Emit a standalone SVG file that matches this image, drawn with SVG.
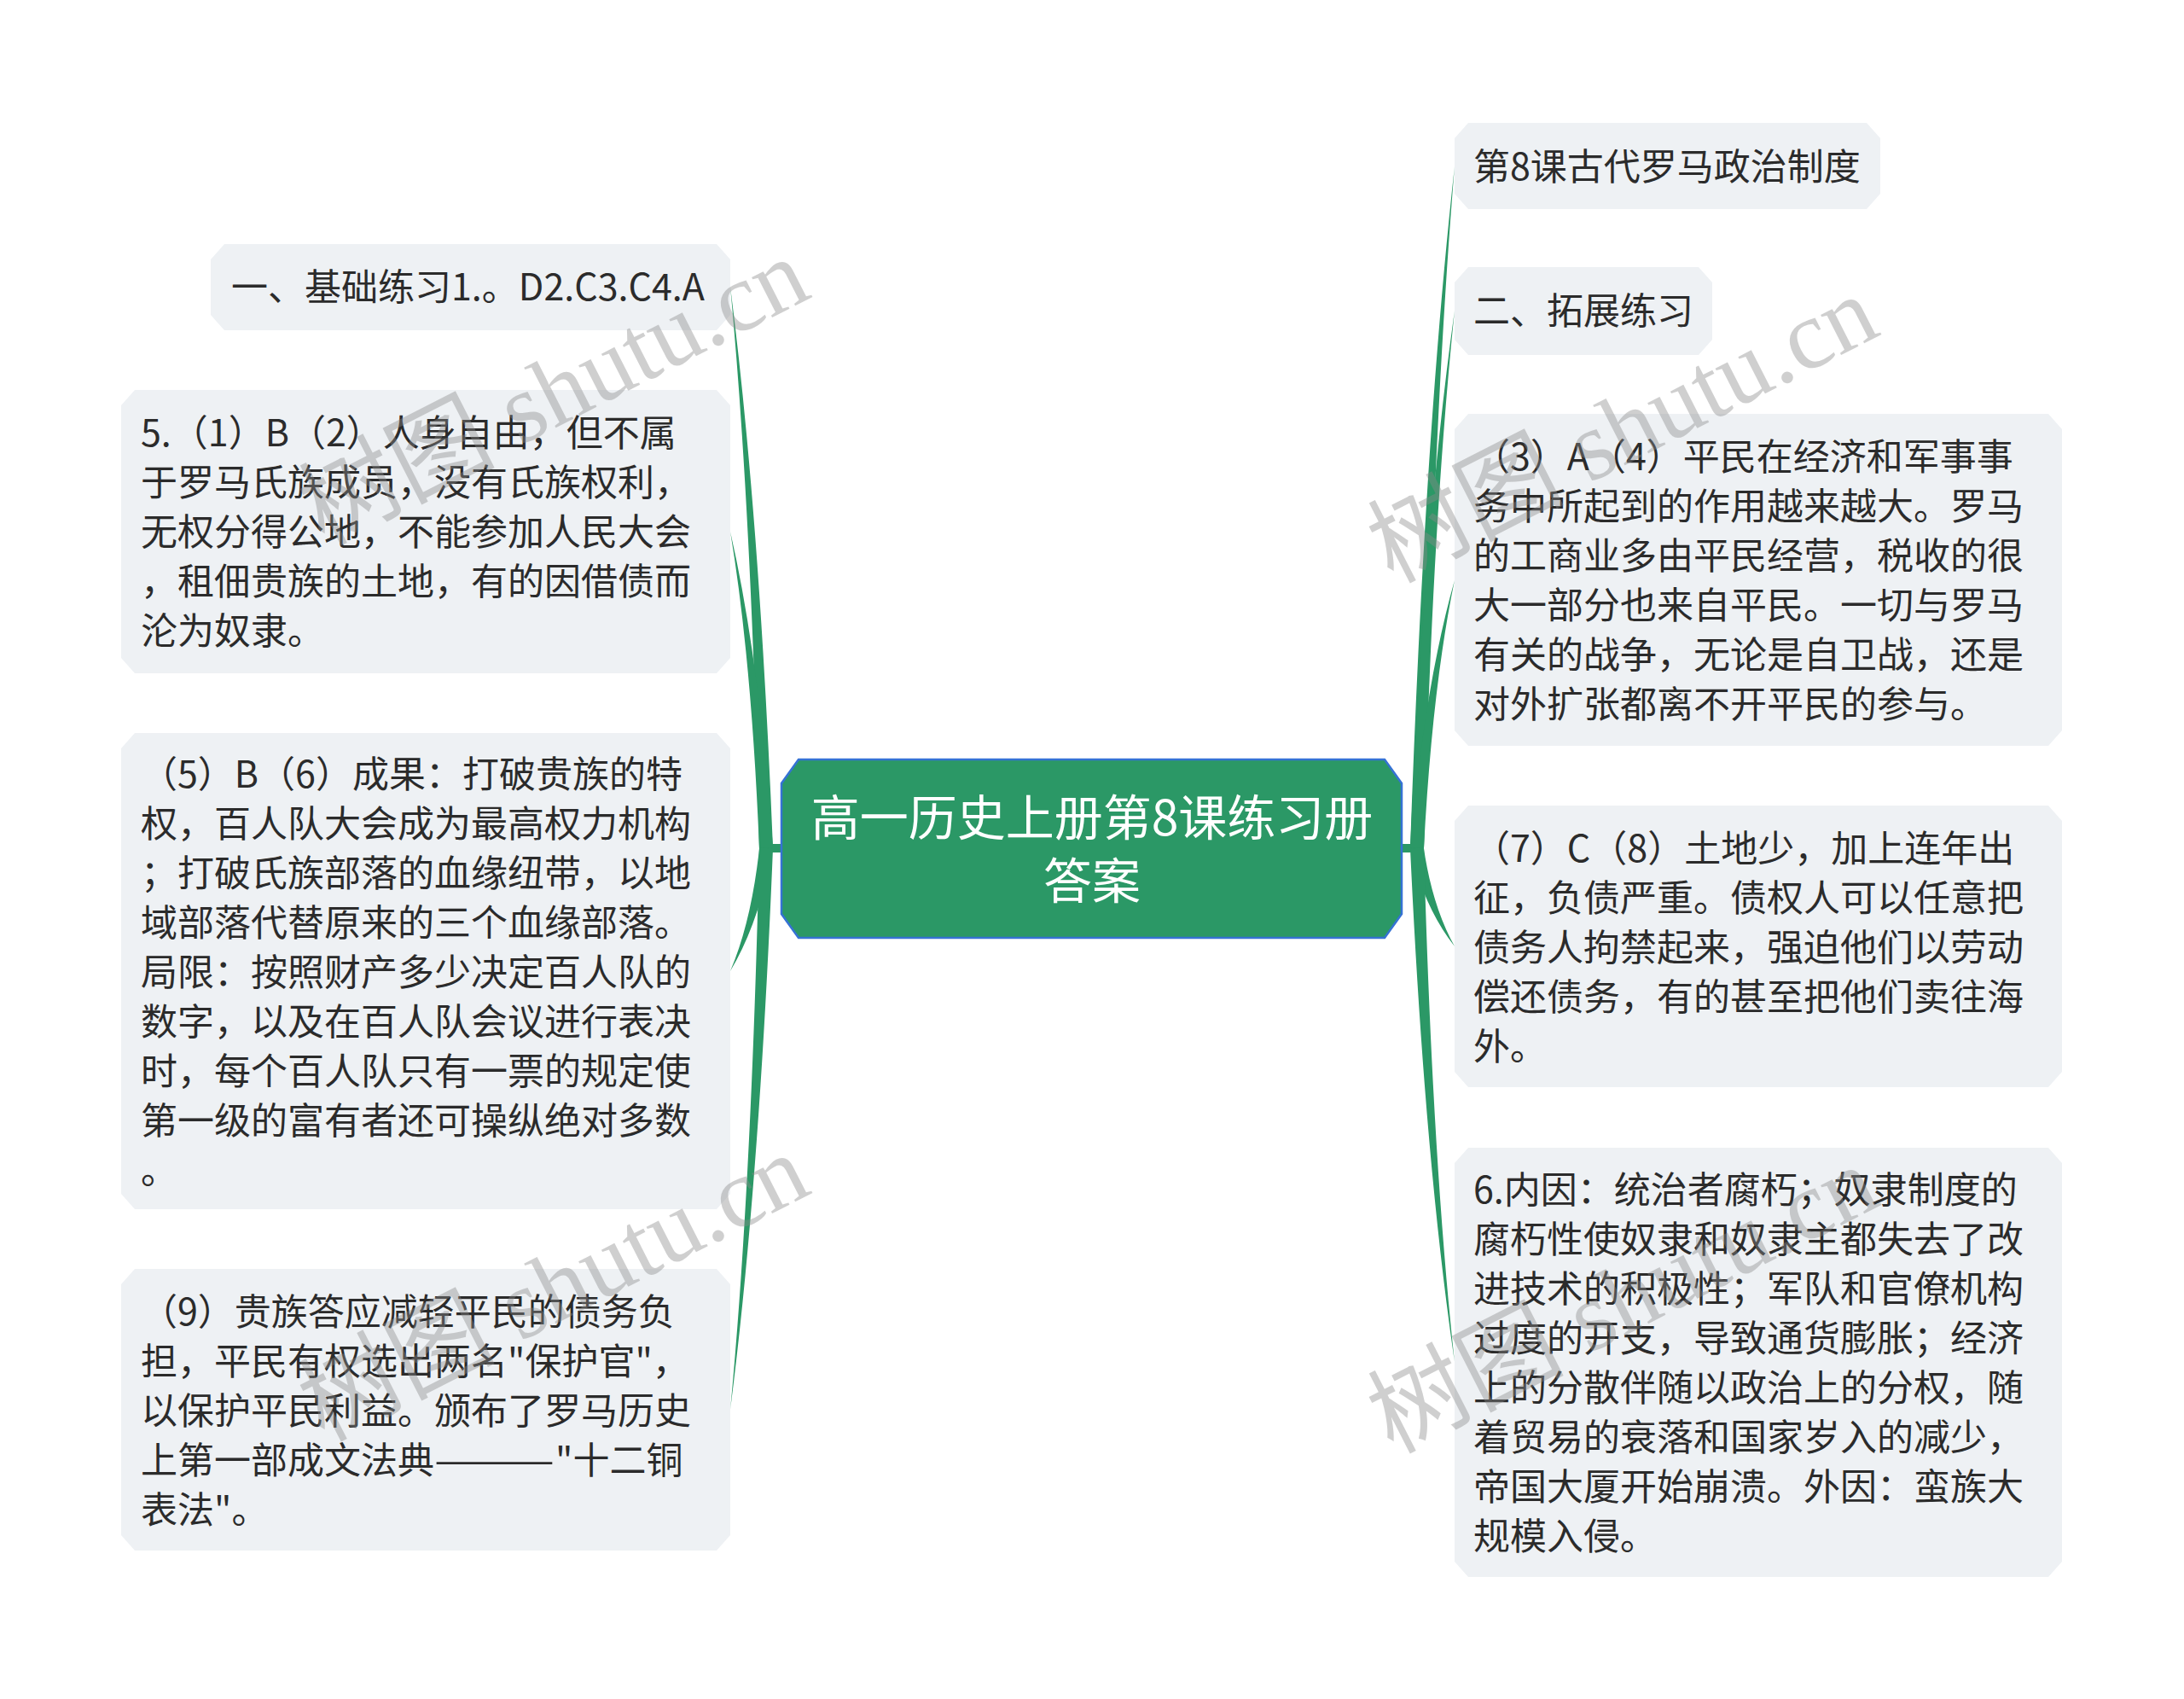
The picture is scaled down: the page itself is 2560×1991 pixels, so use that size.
<svg xmlns="http://www.w3.org/2000/svg" width="2560" height="1991" viewBox="0 0 2560 1991">
<style>
.box{fill:#eef1f4;}
.t{font-family:"Noto Sans CJK SC","Noto Sans",sans-serif;font-size:43px;fill:#2b2b2b;}
.root{fill:#2b9866;stroke:#3572d4;stroke-width:2.5;}
.rt{font-family:"Noto Sans CJK SC","Noto Sans",sans-serif;font-size:57px;fill:#ffffff;text-anchor:middle;}
.br{fill:#2b9866;}
.wm{font-family:"Liberation Serif","Noto Sans CJK SC",serif;font-size:115px;fill:#8a8a8a;opacity:0.4;}
</style>
<rect width="2560" height="1991" fill="#ffffff"/>
<g id="connectors">
<rect class="br" x="896" y="989" width="22" height="10"/>
<rect class="br" x="1641" y="989" width="22" height="10"/>
<path class="br" d="M906,993.5 Q889.9,599 856,336 Q880.9,599.5 890,994.5 Z"/>
<path class="br" d="M906,993.1 Q889.9,771 856,623 Q880.9,771.9 890,994.9 Z"/>
<path class="br" d="M890.3,991.8 Q881.1,1079.2 856,1138 Q889.7,1081.6 905.7,996.2 Z"/>
<path class="br" d="M890,993.5 Q880.9,1388.5 856,1652 Q889.9,1389 906,994.5 Z"/>
<path class="br" d="M1669,994.4 Q1678.7,514.8 1705,195 Q1669.7,514.4 1653,993.6 Z"/>
<path class="br" d="M1669,994.5 Q1678.7,616.3 1705,364 Q1669.7,615.7 1653,993.5 Z"/>
<path class="br" d="M1668.9,995.1 Q1678.7,806.2 1705,680 Q1669.7,805 1653.1,992.9 Z"/>
<path class="br" d="M1653.5,996.8 Q1670,1064.6 1705,1109 Q1678.4,1061.4 1668.5,991.2 Z"/>
<path class="br" d="M1653,994.6 Q1669.7,1355.5 1705,1596 Q1678.7,1354.9 1669,993.4 Z"/>
</g>
<g id="root">
<polygon class="root" points="936,890 1623,890 1643,918 1643,1071 1623,1099 936,1099 916,1071 916,918"/>
<text class="rt" x="1280" y="979">高一历史上册第8课练习册</text>
<text class="rt" x="1280" y="1053">答案</text>
</g>
<g id="node-l1">
<polygon class="box" points="263,286 840,286 856,304 856,369 840,387 263,387 247,369 247,304"/>
<text class="t" x="271" y="352">一、基础练习1.。D2.C3.C4.A</text>
</g>
<g id="node-l2">
<polygon class="box" points="158,457 840,457 856,475 856,771 840,789 158,789 142,771 142,475"/>
<text class="t" x="165" y="523">5.（1）B（2）人身自由，但不属</text>
<text class="t" x="165" y="581">于罗马氏族成员，没有氏族权利，</text>
<text class="t" x="165" y="639">无权分得公地，不能参加人民大会</text>
<text class="t" x="165" y="697">，租佃贵族的土地，有的因借债而</text>
<text class="t" x="165" y="755">沦为奴隶。</text>
</g>
<g id="node-l3">
<polygon class="box" points="158,859 840,859 856,877 856,1399 840,1417 158,1417 142,1399 142,877"/>
<text class="t" x="165" y="923">（5）B（6）成果：打破贵族的特</text>
<text class="t" x="165" y="981">权，百人队大会成为最高权力机构</text>
<text class="t" x="165" y="1039">；打破氏族部落的血缘纽带，以地</text>
<text class="t" x="165" y="1097">域部落代替原来的三个血缘部落。</text>
<text class="t" x="165" y="1155">局限：按照财产多少决定百人队的</text>
<text class="t" x="165" y="1213">数字，以及在百人队会议进行表决</text>
<text class="t" x="165" y="1271">时，每个百人队只有一票的规定使</text>
<text class="t" x="165" y="1329">第一级的富有者还可操纵绝对多数</text>
<text class="t" x="165" y="1387">。</text>
</g>
<g id="node-l4">
<polygon class="box" points="158,1487 840,1487 856,1505 856,1799 840,1817 158,1817 142,1799 142,1505"/>
<text class="t" x="165" y="1553">（9）贵族答应减轻平民的债务负</text>
<text class="t" x="165" y="1611">担，平民有权选出两名"保护官"，</text>
<text class="t" x="165" y="1669">以保护平民利益。颁布了罗马历史</text>
<text class="t" x="165" y="1727">上第一部成文法典<tspan textLength="141" lengthAdjust="spacingAndGlyphs">———</tspan><tspan x="651">"十二铜</tspan></text>
<text class="t" x="165" y="1785">表法"。</text>
</g>
<g id="node-r1">
<polygon class="box" points="1721,144 2188,144 2204,162 2204,227 2188,245 1721,245 1705,227 1705,162"/>
<text class="t" x="1727" y="211">第8课古代罗马政治制度</text>
</g>
<g id="node-r2">
<polygon class="box" points="1721,313 1991,313 2007,331 2007,398 1991,416 1721,416 1705,398 1705,331"/>
<text class="t" x="1727" y="380">二、拓展练习</text>
</g>
<g id="node-r3">
<polygon class="box" points="1721,485 2401,485 2417,503 2417,856 2401,874 1721,874 1705,856 1705,503"/>
<text class="t" x="1727" y="551">（3）A（4）平民在经济和军事事</text>
<text class="t" x="1727" y="609">务中所起到的作用越来越大。罗马</text>
<text class="t" x="1727" y="667">的工商业多由平民经营，税收的很</text>
<text class="t" x="1727" y="725">大一部分也来自平民。一切与罗马</text>
<text class="t" x="1727" y="783">有关的战争，无论是自卫战，还是</text>
<text class="t" x="1727" y="841">对外扩张都离不开平民的参与。</text>
</g>
<g id="node-r4">
<polygon class="box" points="1721,944 2401,944 2417,962 2417,1256 2401,1274 1721,1274 1705,1256 1705,962"/>
<text class="t" x="1727" y="1010">（7）C（8）土地少，加上连年出</text>
<text class="t" x="1727" y="1068">征，负债严重。债权人可以任意把</text>
<text class="t" x="1727" y="1126">债务人拘禁起来，强迫他们以劳动</text>
<text class="t" x="1727" y="1184">偿还债务，有的甚至把他们卖往海</text>
<text class="t" x="1727" y="1242">外。</text>
</g>
<g id="node-r5">
<polygon class="box" points="1721,1345 2401,1345 2417,1363 2417,1830 2401,1848 1721,1848 1705,1830 1705,1363"/>
<text class="t" x="1727" y="1410">6.内因：统治者腐朽；奴隶制度的</text>
<text class="t" x="1727" y="1468">腐朽性使奴隶和奴隶主都失去了改</text>
<text class="t" x="1727" y="1526">进技术的积极性；军队和官僚机构</text>
<text class="t" x="1727" y="1584">过度的开支，导致通货膨胀；经济</text>
<text class="t" x="1727" y="1642">上的分散伴随以政治上的分权，随</text>
<text class="t" x="1727" y="1700">着贸易的衰落和国家岁入的减少，</text>
<text class="t" x="1727" y="1758">帝国大厦开始崩溃。外因：蛮族大</text>
<text class="t" x="1727" y="1816">规模入侵。</text>
</g>
<g id="watermark">
<text class="wm" x="379" y="640" transform="rotate(-27 379 640)">树图 shutu.cn</text>
<text class="wm" x="379" y="1690" transform="rotate(-27 379 1690)">树图 shutu.cn</text>
<text class="wm" x="1632" y="684" transform="rotate(-27 1632 684)">树图 shutu.cn</text>
<text class="wm" x="1632" y="1704" transform="rotate(-27 1632 1704)">树图 shutu.cn</text>
</g>
</svg>
